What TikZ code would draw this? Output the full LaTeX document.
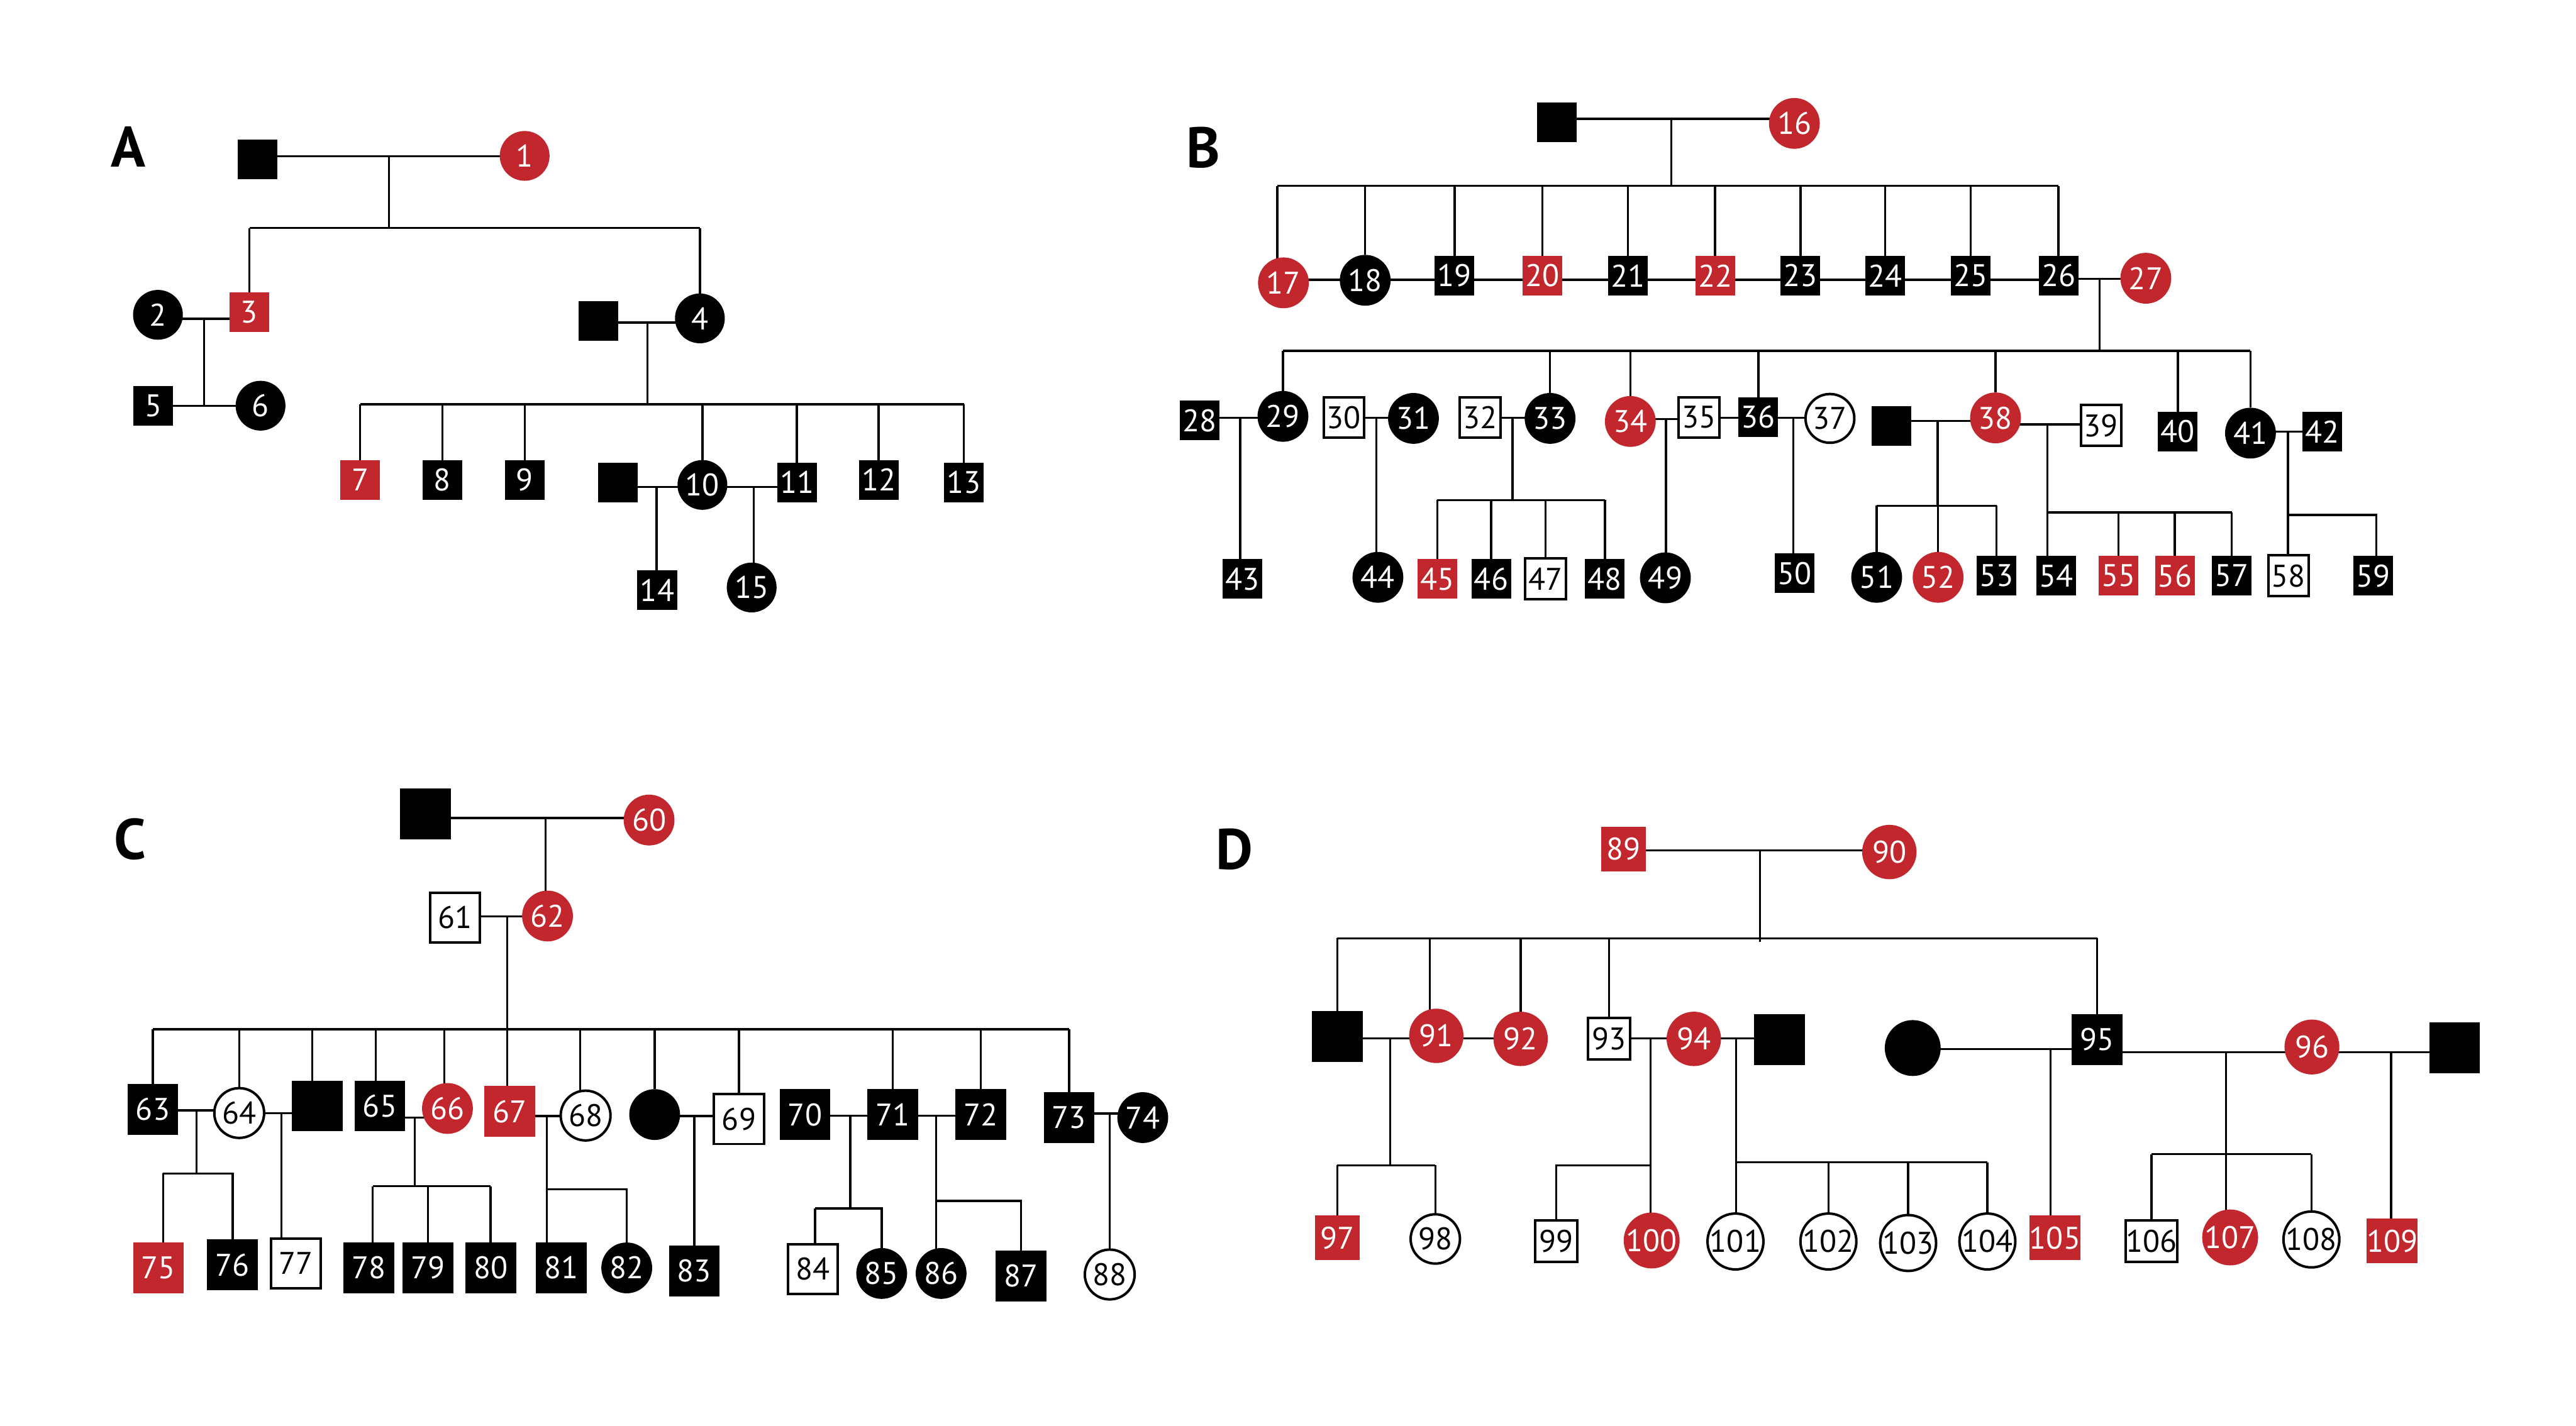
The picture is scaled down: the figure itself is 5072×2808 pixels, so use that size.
\documentclass[tikz,border=0pt]{standalone}
\usepackage{fontspec}
\setmainfont{PT Sans}
\usetikzlibrary{backgrounds}
\definecolor{hlred}{RGB}{193,39,45}
\pgfdeclarelayer{bottom}
\pgfsetlayers{bottom,background,main}
\begin{document}
\begin{tikzpicture}[x=0.01cm,y=-0.01cm,
  person/.style={inner sep=0pt, outer sep=0pt, font=\fontsize{17.5pt}{17.5pt}\selectfont},
  sqr/.style={person, rectangle, minimum size=#1},
  sqr/.default=0.78cm,
  crc/.style={person, circle, minimum size=#1},
  crc/.default=0.98cm,
  aff/.style={fill=black, text=white},
  hl/.style={fill=hlred, text=white},
  unaff/.style={fill=white, draw=black, line width=1.4pt, text=black},
  link/.style={line width=1.2pt, draw=black},
  plabel/.style={font=\fontsize{32pt}{32pt}\selectfont\bfseries, inner sep=0pt}
]
\begin{pgfonlayer}{bottom}
\fill[white] (0,0) rectangle (5072,2808);
\end{pgfonlayer}
\useasboundingbox (0,0) rectangle (5072,2808);

% ================= Panel A =================
\node[plabel] (labA) at (253,289) {A};
\node[sqr, aff] (aF) at (507,314) {};
\node[crc, hl] (p1) at (1033,307) {1};
\node[crc, aff] (p2) at (311,620) {2};
\node[sqr, hl] (p3) at (491,615) {3};
\node[sqr, aff] (aS4) at (1178,632) {};
\node[crc, aff] (p4) at (1378,627) {4};
\node[sqr, aff] (p5) at (302,799) {5};
\node[crc, aff] (p6) at (513,799) {6};
\node[sqr, hl] (p7) at (709,945) {7};
\node[sqr, aff] (p8) at (871,945) {8};
\node[sqr, aff] (p9) at (1033,945) {9};
\node[sqr, aff] (aS10) at (1217,950) {};
\node[crc, aff] (p10) at (1383,955) {10};
\node[sqr, aff] (p11) at (1569,950) {11};
\node[sqr, aff] (p12) at (1730,945) {12};
\node[sqr, aff] (p13) at (1898,950) {13};
\node[sqr, aff] (p14) at (1294,1162) {14};
\node[crc, aff] (p15) at (1480,1157) {15};

% ================= Panel B =================
\node[plabel] (labB) at (2369,290) {B};
\node[sqr, aff] (bF) at (3065,241) {};
\node[crc=1.0cm, hl] (p16) at (3533,243) {16};
\node[crc=1.0cm, hl] (p17) at (2527,557) {17};
\node[crc=1.0cm, aff] (p18) at (2688,552) {18};
\node[sqr, aff] (p19) at (2864,543) {19};
\node[sqr, hl] (p20) at (3037,543) {20};
\node[sqr, aff] (p21) at (3205,543) {21};
\node[sqr, hl] (p22) at (3377,543) {22};
\node[sqr, aff] (p23) at (3545,543) {23};
\node[sqr, aff] (p24) at (3712,543) {24};
\node[sqr, aff] (p25) at (3880,543) {25};
\node[sqr, aff] (p26) at (4053,543) {26};
\node[crc=1.0cm, hl] (p27) at (4225,548) {27};
\node[sqr, aff] (p28) at (2362,828) {28};
\node[crc=1.0cm, aff] (p29) at (2526,820) {29};
\node[sqr=0.80cm, unaff] (p30) at (2646,822) {30};
\node[crc=1.0cm, aff] (p31) at (2783,824) {31};
\node[sqr=0.80cm, unaff] (p32) at (2914,822) {32};
\node[crc=1.0cm, aff] (p33) at (3052,824) {33};
\node[crc=1.0cm, hl] (p34) at (3210,830) {34};
\node[sqr=0.80cm, unaff] (p35) at (3345,822) {35};
\node[sqr, aff] (p36) at (3462,821) {36};
\node[crc=0.96cm, unaff] (p37) at (3603,824) {37};
\node[sqr, aff] (bS38) at (3724,839) {};
\node[crc=1.0cm, hl] (p38) at (3929,823) {38};
\node[sqr=0.80cm, unaff] (p39) at (4137,838) {39};
\node[sqr, aff] (p40) at (4288,850) {40};
\node[crc=1.0cm, aff] (p41) at (4431,853) {41};
\node[sqr, aff] (p42) at (4572,850) {42};
\node[sqr, aff] (p43) at (2446,1140) {43};
\node[crc=1.0cm, aff] (p44) at (2713,1137) {44};
\node[sqr, hl] (p45) at (2830,1140) {45};
\node[sqr, aff] (p46) at (2936,1140) {46};
\node[sqr=0.80cm, unaff] (p47) at (3043,1140) {47};
\node[sqr, aff] (p48) at (3160,1140) {48};
\node[crc=1.0cm, aff] (p49) at (3279,1138) {49};
\node[sqr, aff] (p50) at (3533,1129) {50};
\node[crc=1.0cm, aff] (p51) at (3695,1137) {51};
\node[crc=1.0cm, hl] (p52) at (3816,1137) {52};
\node[sqr, aff] (p53) at (3931,1134) {53};
\node[sqr, aff] (p54) at (4048,1134) {54};
\node[sqr, hl] (p55) at (4171,1134) {55};
\node[sqr, hl] (p56) at (4282,1134) {56};
\node[sqr, aff] (p57) at (4394,1134) {57};
\node[sqr=0.80cm, unaff] (p58) at (4506,1134) {58};
\node[sqr, aff] (p59) at (4673,1134) {59};

% ================= Panel C =================
\node[plabel] (labC) at (256,1653) {C};
\node[sqr=1.0cm, aff] (cF) at (838,1603) {};
\node[crc=1.0cm, hl] (p60) at (1278,1615) {60};
\node[sqr=0.98cm, unaff] (p61) at (896,1807) {61};
\node[crc=1.0cm, hl] (p62) at (1078,1804) {62};
\node[sqr=1.0cm, aff] (p63) at (301,2185) {63};
\node[crc=0.98cm, unaff] (p64) at (471,2192) {64};
\node[sqr=1.0cm, aff] (cU1) at (625,2178) {};
\node[sqr=1.0cm, aff] (p65) at (748,2178) {65};
\node[crc=1.0cm, hl] (p66) at (881,2183) {66};
\node[sqr=1.0cm, hl] (p67) at (1004,2189) {67};
\node[crc=0.98cm, unaff] (p68) at (1153,2197) {68};
\node[crc=1.0cm, aff] (cU2) at (1289,2195) {};
\node[sqr=0.98cm, unaff] (p69) at (1455,2204) {69};
\node[sqr=1.0cm, aff] (p70) at (1585,2195) {70};
\node[sqr=1.0cm, aff] (p71) at (1758,2195) {71};
\node[sqr=1.0cm, aff] (p72) at (1931,2195) {72};
\node[sqr=1.0cm, aff] (p73) at (2105,2201) {73};
\node[crc=1.0cm, aff] (p74) at (2250,2201) {74};
\node[sqr=1.0cm, hl] (p75) at (312,2497) {75};
\node[sqr=1.0cm, aff] (p76) at (458,2491) {76};
\node[sqr=0.98cm, unaff] (p77) at (583,2488) {77};
\node[sqr=1.0cm, aff] (p78) at (726,2497) {78};
\node[sqr=1.0cm, aff] (p79) at (843,2497) {79};
\node[sqr=1.0cm, aff] (p80) at (966,2497) {80};
\node[sqr=1.0cm, aff] (p81) at (1105,2497) {81};
\node[crc=1.0cm, aff] (p82) at (1234,2497) {82};
\node[sqr=1.0cm, aff] (p83) at (1367,2503) {83};
\node[sqr=0.98cm, unaff] (p84) at (1600,2499) {84};
\node[crc=1.0cm, aff] (p85) at (1736,2508) {85};
\node[crc=1.0cm, aff] (p86) at (1853,2508) {86};
\node[sqr=1.0cm, aff] (p87) at (2010,2513) {87};
\node[crc=0.98cm, unaff] (p88) at (2185,2510) {88};

% ================= Panel D =================
\node[plabel] (labD) at (2430,1672) {D};
\node[sqr=0.88cm, hl] (p89) at (3197,1672) {89};
\node[crc=1.07cm, hl] (p90) at (3720,1678) {90};
\node[sqr=1.0cm, aff] (dS91) at (2633,2041) {};
\node[crc=1.07cm, hl] (p91) at (2828,2040) {91};
\node[crc=1.07cm, hl] (p92) at (2994,2046) {92};
\node[sqr=0.82cm, unaff] (p93) at (3168,2046) {93};
\node[crc=1.07cm, hl] (p94) at (3335,2046) {94};
\node[sqr=1.0cm, aff] (dS94) at (3504,2047) {};
\node[crc=1.1cm, aff] (dC95) at (3766,2064) {};
\node[sqr=1.0cm, aff] (p95) at (4129,2047) {95};
\node[crc=1.08cm, hl] (p96) at (4552,2062) {96};
\node[sqr=1.0cm, aff] (dS96) at (4833,2064) {};
\node[sqr=0.88cm, hl] (p97) at (2633,2438) {97};
\node[crc=0.97cm, unaff] (p98) at (2826,2440) {98};
\node[sqr=0.82cm, unaff] (p99) at (3064,2444) {99};
\node[crc=1.07cm, hl] (p100) at (3252,2443) {100};
\node[crc=0.97cm, unaff] (p101) at (3417,2445) {101};
\node[crc=0.97cm, unaff] (p102) at (3600,2445) {102};
\node[crc=0.97cm, unaff] (p103) at (3757,2448) {103};
\node[crc=0.97cm, unaff] (p104) at (3913,2445) {104};
\node[sqr=0.88cm, hl] (p105) at (4046,2438) {105};
\node[sqr=0.82cm, unaff] (p106) at (4236,2444) {106};
\node[crc=1.07cm, hl] (p107) at (4391,2437) {107};
\node[crc=0.97cm, unaff] (p108) at (4551,2441) {108};
\node[sqr=0.88cm, hl] (p109) at (4710,2444) {109};

% ================= Connectors =================
\begin{scope}[on background layer]
% --- A ---
\coordinate (mA1) at (766,308); \coordinate (sA1) at (766,449);
\draw[link] (aF |- mA1) -- (p1 |- mA1);
\draw[link] (mA1) -- (sA1);
\draw[link] (p3 |- sA1) -- (p4 |- sA1);
\foreach \c in {p3,p4} \draw[link] (\c |- sA1) -- (\c);
\coordinate (mA2) at (402,628);
\draw[link] (p2 |- mA2) -- (p3 |- mA2);
\draw[link] (mA2) -- (mA2 |- p5);
\draw[link] (p5) -- (p6);
\coordinate (mA3) at (1275,635); \coordinate (sA3) at (1275,796);
\draw[link] (aS4 |- mA3) -- (p4 |- mA3);
\draw[link] (mA3) -- (sA3);
\draw[link] (p7 |- sA3) -- (p13 |- sA3);
\foreach \c in {p7,p8,p9,p10,p11,p12,p13} \draw[link] (\c |- sA3) -- (\c);
\coordinate (mA4) at (1293,959);
\draw[link] (aS10 |- mA4) -- (p10 |- mA4);
\draw[link] (mA4) -- (mA4 |- p14);
\coordinate (mA5) at (1484,959);
\draw[link] (p10 |- mA5) -- (p11 |- mA5);
\draw[link] (mA5) -- (mA5 |- p15);

% --- B ---
\coordinate (mB1) at (3291,234); \coordinate (sB1) at (3291,366);
\coordinate (d17) at (2515,366);
\draw[link] (bF |- mB1) -- (p16 |- mB1);
\draw[link] (mB1) -- (sB1);
\draw[link] (d17) -- (p26 |- sB1);
\draw[link] (d17) -- (d17 |- p17);
\foreach \c in {p18,p19,p20,p21,p22,p23,p24,p25,p26} \draw[link] (\c |- sB1) -- (\c);
\coordinate (rowB) at (0,551);
\draw[link] (p17 |- rowB) -- (p26 |- rowB);
\coordinate (mB2) at (4134,549); \coordinate (sB2) at (4134,691);
\draw[link] (p26 |- mB2) -- (p27 |- mB2);
\draw[link] (mB2) -- (sB2);
\draw[link] (p29 |- sB2) -- (p41 |- sB2);
\foreach \c in {p29,p33,p34,p36,p38,p40,p41} \draw[link] (\c |- sB2) -- (\c);
\coordinate (mB3) at (2442,823);
\draw[link] (p28 |- mB3) -- (p29 |- mB3);
\draw[link] (mB3) -- (mB3 |- p43);
\coordinate (mB4) at (2710,823);
\draw[link] (p30 |- mB4) -- (p31 |- mB4);
\draw[link] (mB4) -- (mB4 |- p44);
\coordinate (mB5) at (2978,823); \coordinate (sB5) at (2978,985);
\draw[link] (p32 |- mB5) -- (p33 |- mB5);
\draw[link] (mB5) -- (sB5);
\draw[link] (p45 |- sB5) -- (p48 |- sB5);
\foreach \c in {p45,p46,p47,p48} \draw[link] (\c |- sB5) -- (\c);
\coordinate (mB6) at (3280,825);
\draw[link] (p34 |- mB6) -- (p35 |- mB6);
\draw[link] (mB6) -- (mB6 |- p49);
\coordinate (rowB3) at (0,823);
\draw[link] (p35 |- rowB3) -- (p36 |- rowB3);
\coordinate (mB7) at (3531,823);
\draw[link] (p36 |- mB7) -- (p37 |- mB7);
\draw[link] (mB7) -- (mB7 |- p50);
\coordinate (mB8) at (3815,829); \coordinate (sB8) at (3815,996);
\draw[link] (bS38 |- mB8) -- (p38 |- mB8);
\draw[link] (mB8) -- (sB8);
\draw[link] (p51 |- sB8) -- (p53 |- sB8);
\foreach \c in {p51,p52,p53} \draw[link] (\c |- sB8) -- (\c);
\coordinate (mB9) at (4031,836); \coordinate (sB9) at (4031,1009);
\draw[link] (p38 |- mB9) -- (p39 |- mB9);
\draw[link] (mB9) -- (mB9 |- p54.north);
\draw[link] (sB9) -- (p57 |- sB9);
\foreach \c in {p55,p56,p57} \draw[link] (\c |- sB9) -- (\c);
\coordinate (mB10) at (4505,850); \coordinate (sB10) at (4505,1014);
\coordinate (d59) at (4679,1014);
\draw[link] (p41 |- mB10) -- (p42 |- mB10);
\draw[link] (mB10) -- (mB10 |- p58);
\draw[link] (sB10) -- (d59) -- (d59 |- p59);

% --- C ---
\coordinate (mC1) at (1074,1611);
\draw[link] (cF |- mC1) -- (p60 |- mC1);
\draw[link] (mC1) -- (mC1 |- p62);
\coordinate (mC2) at (999,1805); \coordinate (sC2) at (999,2027);
\draw[link] (p61 |- mC2) -- (p62 |- mC2);
\draw[link] (mC2) -- (mC2 |- p67);
\draw[link] (p63 |- sC2) -- (p73 |- sC2);
\foreach \c in {p63,p64,p69,p71,p72,p73,cU2} \draw[link] (\c |- sC2) -- (\c);
\foreach \xx/\c in {615/cU1,740/p65,875/p66,1142/p68}
  \draw[link] (\xx,2027) -- (\xx,2027 |- \c);
\coordinate (mC3) at (387,2187); \coordinate (sC3) at (387,2311);
\draw[link] (p63 |- mC3) -- (p64 |- mC3);
\draw[link] (mC3) -- (sC3);
\coordinate (d75) at (321,2311);
\draw[link] (d75) -- (p76 |- sC3) -- (p76);
\draw[link] (d75) -- (d75 |- p75);
\coordinate (mC4) at (554,2192);
\draw[link] (p64 |- mC4) -- (cU1 |- mC4);
\draw[link] (mC4) -- (mC4 |- p77);
\coordinate (mC5) at (817,2201); \coordinate (sC5) at (817,2336);
\coordinate (d78) at (734,2336);
\draw[link] (p65 |- mC5) -- (p66 |- mC5);
\draw[link] (mC5) -- (sC5);
\draw[link] (d78) -- (p80 |- sC5);
\draw[link] (d78) -- (d78 |- p78);
\foreach \c in {p79,p80} \draw[link] (\c |- sC5) -- (\c);
\coordinate (mC6) at (1077,2198); \coordinate (sC6) at (1077,2342);
\draw[link] (p67 |- mC6) -- (p68 |- mC6);
\draw[link] (mC6) -- (mC6 |- p81);
\draw[link] (sC6) -- (p82 |- sC6) -- (p82);
\coordinate (mC7) at (1367,2198);
\draw[link] (cU2 |- mC7) -- (p69 |- mC7);
\draw[link] (mC7) -- (mC7 |- p83);
\coordinate (mC8) at (1674,2197); \coordinate (sC8) at (1674,2380);
\coordinate (d84) at (1605,2380);
\draw[link] (p70 |- mC8) -- (p71 |- mC8);
\draw[link] (mC8) -- (sC8);
\draw[link] (d84) -- (p85 |- sC8) -- (p85);
\draw[link] (d84) -- (d84 |- p84);
\coordinate (mC9) at (1843,2197); \coordinate (sC9) at (1843,2365);
\draw[link] (p71 |- mC9) -- (p72 |- mC9);
\draw[link] (mC9) -- (mC9 |- p86);
\draw[link] (sC9) -- (p87 |- sC9) -- (p87);
\coordinate (mC10) at (2185,2193);
\draw[link] (p73 |- mC10) -- (p74 |- mC10);
\draw[link] (mC10) -- (mC10 |- p88);

% --- D ---
\coordinate (mD1) at (3465,1675); \coordinate (sD1) at (3465,1848);
\draw[link] (p89 |- mD1) -- (p90 |- mD1);
\draw[link] (mD1) -- (3465,1855);
\draw[link] (dS91 |- sD1) -- (p95 |- sD1);
\foreach \c in {dS91,p92,p93,p95} \draw[link] (\c |- sD1) -- (\c);
\draw[link] (2815,1848) -- (2815,1848 |- p91);
\coordinate (mD2) at (2737,2045); \coordinate (sD2) at (2737,2295);
\draw[link] (dS91 |- mD2) -- (p91 |- mD2);
\draw[link] (mD2) -- (sD2);
\draw[link] (p97 |- sD2) -- (p98 |- sD2);
\foreach \c in {p97,p98} \draw[link] (\c |- sD2) -- (\c);
\draw[link] (p91 |- mD2) -- (p92 |- mD2);
\coordinate (mD3) at (3250,2045); \coordinate (sD3) at (3250,2295);
\draw[link] (p93 |- mD3) -- (p94 |- mD3);
\draw[link] (mD3) -- (mD3 |- p100);
\draw[link] (sD3) -- (p99 |- sD3) -- (p99);
\coordinate (mD4) at (3418,2045); \coordinate (sD4) at (3418,2289);
\draw[link] (p94 |- mD4) -- (dS94 |- mD4);
\draw[link] (mD4) -- (mD4 |- p101);
\draw[link] (sD4) -- (p104 |- sD4);
\foreach \c in {p102,p103,p104} \draw[link] (\c |- sD4) -- (\c);
\coordinate (mD5) at (4037,2066);
\draw[link] (dC95 |- mD5) -- (p95 |- mD5);
\draw[link] (mD5) -- (mD5 |- p105);
\coordinate (mD6) at (4383,2072); \coordinate (sD6) at (4383,2273);
\draw[link] (p95 |- mD6) -- (p96 |- mD6);
\draw[link] (mD6) -- (mD6 |- p107);
\draw[link] (p106 |- sD6) -- (p108 |- sD6);
\foreach \c in {p106,p108} \draw[link] (\c |- sD6) -- (\c);
\coordinate (mD7) at (4708,2072);
\draw[link] (p96 |- mD7) -- (dS96 |- mD7);
\draw[link] (mD7) -- (mD7 |- p109);
\end{scope}
\end{tikzpicture}
\end{document}
